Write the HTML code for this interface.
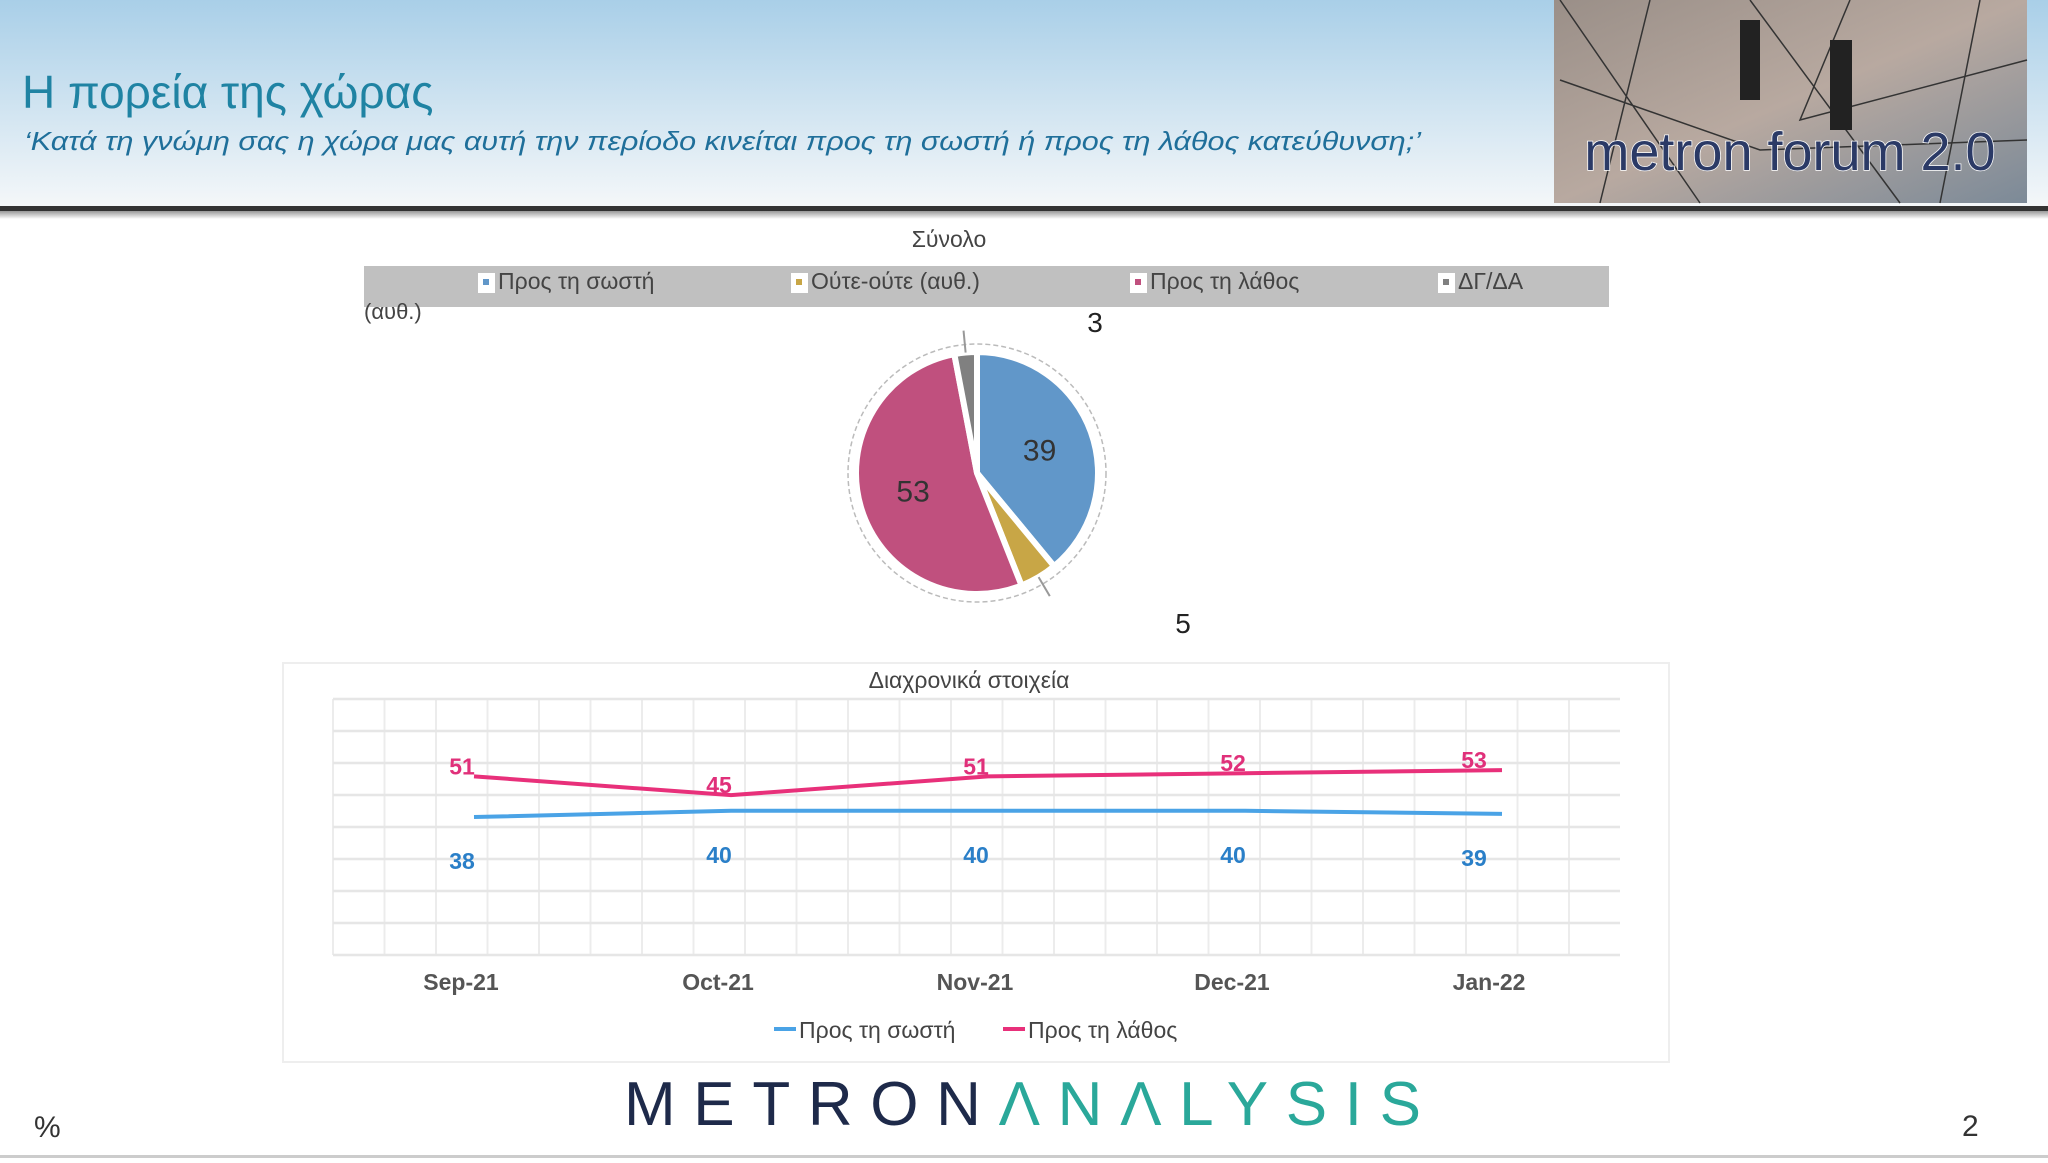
<!DOCTYPE html>
<html><head><meta charset="utf-8"><style>
body{margin:0;width:2048px;height:1158px;overflow:hidden;background:#fff;font-family:"Liberation Sans","DejaVu Sans",sans-serif}
svg text{font-family:"Liberation Sans","DejaVu Sans",sans-serif}
</style></head><body>
<svg id="s" width="2048" height="1158" viewBox="0 0 2048 1158" xmlns="http://www.w3.org/2000/svg">
<defs>
<linearGradient id="hg" x1="0" y1="0" x2="0" y2="1"><stop offset="0" stop-color="#a9cfe8"/><stop offset="1" stop-color="#f4f7f9"/></linearGradient>
<linearGradient id="ph" x1="0" y1="0" x2="1" y2="1"><stop offset="0" stop-color="#9a8f88"/><stop offset="0.5" stop-color="#b8a9a0"/><stop offset="1" stop-color="#7c8a98"/></linearGradient>
<linearGradient id="sh" x1="0" y1="0" x2="0" y2="1"><stop offset="0" stop-color="#999"/><stop offset="1" stop-color="#fff"/></linearGradient>
</defs>
<g>
<rect x="0" y="0" width="2048" height="206" fill="url(#hg)"/>
<rect x="0" y="206" width="2048" height="5" fill="#333"/>
<rect x="0" y="211" width="2048" height="8" fill="url(#sh)"/>
<text x="22" y="108" font-size="46" fill="#1f83a3">Η πορεία της χώρας</text>
<text x="24" y="150" font-size="26" font-style="italic" fill="#1f6f9a" textLength="1397" lengthAdjust="spacingAndGlyphs">‘Κατά τη γνώμη σας η χώρα μας αυτή την περίοδο κινείται προς τη σωστή ή προς τη λάθος κατεύθυνση;’</text>
<g>
<rect x="1554" y="0" width="473" height="203" fill="url(#ph)"/>
<path d="M1560 0 L1700 203 M1650 0 L1600 203 M1750 0 L1900 203 M1850 0 L1800 120 L2027 60 M1980 0 L1940 203 M1560 80 L1760 150 L2027 140" stroke="#333" stroke-width="1.5" fill="none"/>
<rect x="1740" y="20" width="20" height="80" fill="#222"/><rect x="1830" y="40" width="22" height="90" fill="#222"/>
<text x="1790" y="170" font-size="54" text-anchor="middle" fill="#2b3a66" stroke="#fff" stroke-width="1.5" paint-order="stroke">metron forum 2.0</text>
</g>
</g>
<text x="949" y="247" font-size="23" text-anchor="middle" fill="#444">Σύνολο</text>
<g>
<rect x="364" y="266" width="1245" height="41" fill="#c0c0c0"/>
<g id="pleg"></g>
<text x="364" y="319" font-size="22" fill="#444">(αυθ.)</text>
</g>
<g id="pie"></g>
<g>
<rect x="283" y="663" width="1386" height="399" fill="#fff" stroke="#eee" stroke-width="2"/>
<text x="969" y="688" font-size="23" text-anchor="middle" fill="#444">Διαχρονικά στοιχεία</text>
<g id="grid"></g><g id="lines"></g>
<g>
<line x1="774" y1="1029" x2="796" y2="1029" stroke="#4aa3e6" stroke-width="4"/>
<text x="799" y="1038" font-size="23" fill="#444">Προς τη σωστή</text>
<line x1="1003" y1="1029" x2="1025" y2="1029" stroke="#e8307a" stroke-width="4"/>
<text x="1028" y="1038" font-size="23" fill="#444">Προς τη λάθος</text>
</g>
</g>
<g>
<text x="624" y="1125" font-size="62" textLength="797" lengthAdjust="spacing" fill="#1e2a4a">METRON<tspan fill="#2aa89a">ΛNΛLYSIS</tspan></text>
<text x="34" y="1137" font-size="30" fill="#333">%</text>
<text x="1962" y="1136" font-size="30" fill="#333">2</text>
<rect x="0" y="1155" width="2048" height="3" fill="#ccc"/>
</g>
</svg>
<script>
const NS='http://www.w3.org/2000/svg';
const pieLabels=['Προς τη σωστή','Ούτε-ούτε (αυθ.)','Προς τη λάθος','ΔΓ/ΔΑ'];
const pieValues=[39,5,53,3];
const pieColors=['#6197c9','#c8a646','#c0507e','#808080'];
const months=['Sep-21','Oct-21','Nov-21','Dec-21','Jan-22'];
const rightVals=[38,40,40,40,39];
const wrongVals=[51,45,51,52,53];
function mk(t,a,p){const e=document.createElementNS(NS,t);for(const k in a)e.setAttribute(k,a[k]);p.appendChild(e);return e;}
const pl=document.getElementById('pleg');const legX=[478,791,1130,1438];
pieLabels.forEach((l,i)=>{
 const g=mk('g',{},pl);
 
 
 mk('rect',{x:legX[i],y:273,width:17,height:20,fill:'#fff'},g);
 mk('rect',{x:legX[i]+5,y:279,width:6,height:6,fill:pieColors[i]},g);
 const t=mk('text',{x:legX[i]+20,y:289,'font-size':23,fill:'#444'},g);t.textContent=l;
});
const pie=document.getElementById('pie');const cx=977,cy=473,R=121;
mk('circle',{cx,cy,r:129,fill:'none',stroke:'#bbb','stroke-width':1.5,'stroke-dasharray':'5 3'},pie);
const tot=pieValues.reduce((a,b)=>a+b,0);let a0=0;
const lblPos=[];
pieValues.forEach((v,i)=>{
 const a1=a0+v/tot*2*Math.PI;
 const p=(a)=>[cx+R*Math.sin(a),cy-R*Math.cos(a)];
 const [x0,y0]=p(a0),[x1,y1]=p(a1);
 const s=mk('path',{d:`M${cx},${cy} L${x0},${y0} A${R},${R} 0 ${a1-a0>Math.PI?1:0} 1 ${x1},${y1} Z`,fill:pieColors[i],stroke:'#fff','stroke-width':6,'stroke-linejoin':'round'},pie);
 
 
 const m=(a0+a1)/2;lblPos.push(m);a0=a1;
});
lblPos.forEach((m,i)=>{
 let x,y,big=pieValues[i]>=10;
 if(big){x=cx+R*0.55*Math.sin(m);y=cy-R*0.55*Math.cos(m)+10;}
 else{const rx=cx+R*Math.sin(m),ry=cy-R*Math.cos(m);
  const ex=cx+(R+22)*Math.sin(m),ey=cy-(R+22)*Math.cos(m);
  mk('line',{x1:rx,y1:ry,x2:ex,y2:ey,stroke:'#999','stroke-width':2},pie);
  if(i===1){x=1183;y=633;}else{x=1095;y=332;}}
 const t=mk('text',{x,y,'font-size':big?30:28,'text-anchor':'middle',fill:big?'#333':'#222'},pie);
 
 
 t.textContent=pieValues[i];
});
const X0=333,X1=1620,Yt=699,Yb=955;
const px=i=>474+i*257;
const py=v=>936-v*3.13;
const gr=document.getElementById('grid');
for(let x=X0;x<=X1;x+=51.5)mk('line',{x1:x,y1:Yt,x2:x,y2:Yb,stroke:'#ececec','stroke-width':2},gr);
for(let y=Yt;y<=Yb+1;y+=32)mk('line',{x1:X0,y1:y,x2:X1,y2:y,stroke:'#e6e6e6','stroke-width':2.5},gr);
const ln=document.getElementById('lines');
months.forEach((m,i)=>{const t=mk('text',{x:px(i)-13,y:990,'font-size':23,'font-weight':'bold','text-anchor':'middle',fill:'#555'},ln);
 
 
 t.textContent=m;});
function series(vals,col,lc,off,name){
 const pl=mk('polyline',{points:vals.map((v,i)=>px(i)+','+py(v)).join(' '),fill:'none',stroke:col,'stroke-width':4},ln);
 
 
 vals.forEach((v,i)=>{const t=mk('text',{x:px(i)-12+(i===4?-16:0),y:py(v)+off,'font-size':23,'font-weight':'bold','text-anchor':'middle',fill:lc},ln);
  
  
  t.textContent=v;});
}
series(rightVals,'#4aa3e6','#2a7fc8',52,'line-right-direction');
series(wrongVals,'#e8307a','#e0307a',-2,'line-wrong-direction');
</script>
</body></html>
